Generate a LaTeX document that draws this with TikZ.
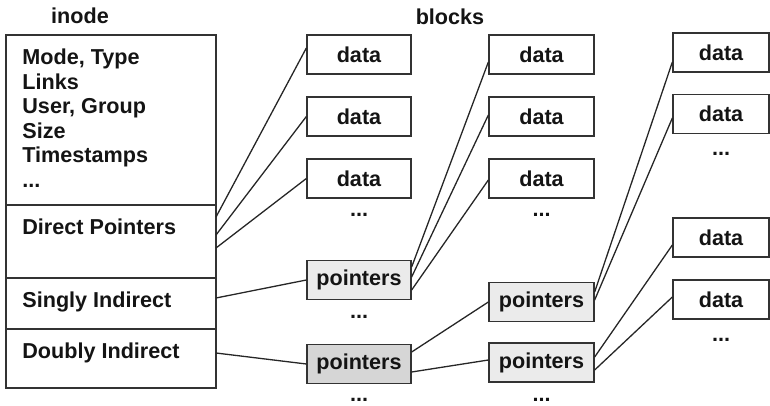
\documentclass[tikz,border=0pt]{standalone}
\usepackage{fontspec}
\setmainfont{Liberation Sans}
\usetikzlibrary{positioning}
\tikzset{
  boldtext/.style={font=\fontsize{10.8}{12.25}\selectfont\bfseries, text=black!92},
  sectbox/.style={draw=black!80, line width=0.65pt, anchor=north west, minimum width=105pt, inner sep=0pt, outer sep=0pt},
  fieldtext/.style={boldtext, anchor=north west, align=left, inner xsep=8pt, inner ysep=6.75pt},
  blockbox/.style={boldtext, draw=black!80, line width=0.65pt, minimum width=52pt, minimum height=19.5pt, inner sep=0pt},
  databox/.style={blockbox},
  ptrbox/.style={blockbox, fill=gray!16},
  dptrbox/.style={blockbox, fill=gray!32},
  more/.style={boldtext, inner sep=0pt},
  head/.style={boldtext},
  link/.style={draw=black!85, line width=0.65pt}
}

\begin{document}
\begin{tikzpicture}[x=0.5pt, y=-0.5pt]
  \useasboundingbox (0,0) rectangle (770,406);

  % inode
  \node[head] (inodehead) at (80,16) {inode};
  \node[sectbox, minimum height=85pt] (info) at (6,35) {};
  \node[sectbox, minimum height=36.5pt] (direct) at (info.south west) {};
  \node[sectbox, minimum height=25.5pt] (singly) at (direct.south west) {};
  \node[sectbox, minimum height=29.5pt] (doubly) at (singly.south west) {};
  \node[fieldtext] (infotext) at (info.north west) {Mode, Type\\Links\\User, Group\\Size\\Timestamps\\...};
  \node[fieldtext] (directtext) at (direct.north west) {Direct Pointers};
  \node[fieldtext] (singlytext) at (singly.north west) {Singly Indirect};
  \node[fieldtext] (doublytext) at (doubly.north west) {Doubly Indirect};

  % blocks
  \node[head] (blockshead) at (450,17) {blocks};

  \node[databox] (d11) at (359,54.5) {data};
  \node[databox] (d12) at (359,116.5) {data};
  \node[databox] (d13) at (359,178.5) {data};
  \node[more] (m11) at (359,215) {...};
  \node[ptrbox] (p11) at (359,280) {pointers};
  \node[more] (m12) at (359,317) {...};
  \node[dptrbox] (p12) at (359,364) {pointers};
  \node[more] (m13) at (359,400) {...};

  \node[databox, minimum width=52.5pt] (d21) at (541.5,54.5) {data};
  \node[databox, minimum width=52.5pt] (d22) at (541.5,116.5) {data};
  \node[databox, minimum width=52.5pt] (d23) at (541.5,178.5) {data};
  \node[more] (m21) at (541.5,215) {...};
  \node[ptrbox, minimum width=52.5pt] (p21) at (541.5,302) {pointers};
  \node[ptrbox, minimum width=52.5pt] (p22) at (541.5,362.5) {pointers};
  \node[more] (m22) at (541.5,400) {...};

  \node[databox, minimum width=48pt] (d31) at (721,52.5) {data};
  \node[databox, minimum width=48pt] (d32) at (721,114) {data};
  \node[more] (m31) at (721,154) {...};
  \node[databox, minimum width=48pt] (d33) at (721,237.5) {data};
  \node[databox, minimum width=48pt] (d34) at (721,299.5) {data};
  \node[more] (m32) at (721,340) {...};

  % pointers
  \draw[link] ([yshift=12.25pt]direct.east) -- ([yshift=3.25pt]d11.west);
  \draw[link] ([yshift=3.25pt]direct.east) -- (d12.west);
  \draw[link] ([yshift=-3.25pt]direct.east) -- (d13.west);
  \draw[link] ([yshift=2.75pt]singly.east) -- (p11.west);
  \draw[link] ([yshift=2.75pt]doubly.east) -- (p12.west);

  \draw[link] ([yshift=6.5pt]p11.east) -- ([yshift=-3.75pt]d21.west);
  \draw[link] ([yshift=1.5pt]p11.east) -- ([yshift=0.75pt]d22.west);
  \draw[link] ([yshift=-5pt]p11.east) -- ([yshift=-0.75pt]d23.west);
  \draw[link] ([yshift=6pt]p12.east) -- (p21.west);
  \draw[link] ([yshift=-4pt]p12.east) -- ([yshift=1.25pt]p22.west);

  \draw[link] ([yshift=5pt]p21.east) -- ([yshift=-4.75pt]d31.west);
  \draw[link] ([yshift=1pt]p21.east) -- ([yshift=-2pt]d32.west);
  \draw[link] ([yshift=2.75pt]p22.east) -- ([yshift=-3.75pt]d33.west);
  \draw[link] ([yshift=-3.75pt]p22.east) -- ([yshift=1.25pt]d34.west);
\end{tikzpicture}
\end{document}
